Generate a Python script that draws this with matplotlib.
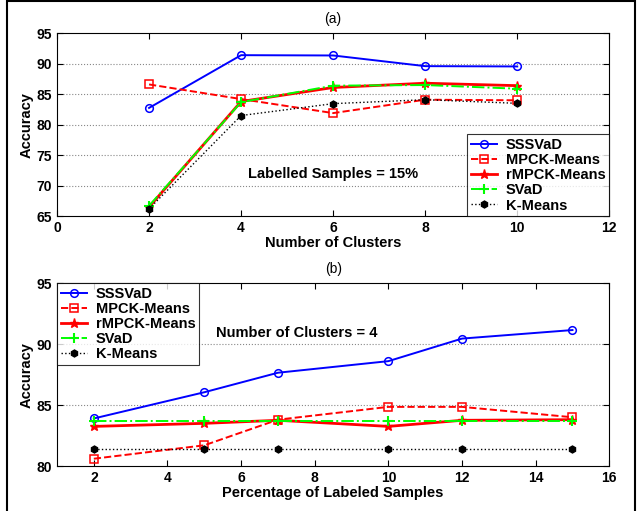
import matplotlib
matplotlib.use("Agg")
import matplotlib.pyplot as plt
from matplotlib.patches import Rectangle

plt.rcParams['font.family'] = ['Liberation Sans', 'DejaVu Sans']

# Panel (a)
clusters = [2, 4, 6, 8, 10]
a_sssvad = [82.75, 91.4, 91.35, 89.6, 89.55]
a_mpck = [86.6, 84.2, 81.9, 84.1, 84.0]
a_rmpck = [66.5, 83.8, 86.1, 86.8, 86.4]
a_svad = [66.7, 83.7, 86.4, 86.5, 85.9]
a_kmeans = [66.2, 81.5, 83.45, 84.1, 83.5]

# Panel (b)
labeled = [2, 5, 7, 10, 12, 15]
b_sssvad = [83.9, 86.05, 87.65, 88.6, 90.45, 91.15]
b_mpck = [80.6, 81.7, 83.8, 84.85, 84.85, 84.0]
b_rmpck = [83.25, 83.5, 83.75, 83.25, 83.75, 83.8]
b_svad = [83.7, 83.7, 83.7, 83.7, 83.7, 83.7]
b_kmeans = [81.4, 81.4, 81.4, 81.4, 81.4, 81.4]

names = ['SSSVaD', 'MPCK-Means', 'rMPCK-Means', 'SVaD', 'K-Means']

styles = [
    dict(color='#0000ff', ls='-', marker='o', mfc='none', ms=5.5, lw=1.4, mew=1.1),
    dict(color='#ff0000', ls='--', marker='s', mfc='none', ms=5.5, lw=1.4, mew=1.1),
    dict(color='#ff0000', ls='-', marker='*', mfc='#ff0000', ms=6.5, lw=2.0, mew=1.0),
    dict(color='#00ff00', ls='-.', marker='+', ms=7, lw=1.4, mew=1.5),
    dict(color='#000000', ls=':', marker='h', mfc='#000000', ms=5, lw=1.0, mew=1.0),
]

fig = plt.figure(figsize=(6.37, 5.11), dpi=100)
fig.patches.append(Rectangle((7 / 637, -0.05), 628 / 637, 1.048, transform=fig.transFigure,
                             fill=False, edgecolor='black', lw=1.5))

def style_ax(ax, yticks):
    ax.tick_params(direction='in', top=True, right=True, labelsize=10, length=4)
    for lab in ax.get_xticklabels() + ax.get_yticklabels():
        lab.set_fontweight('bold')
    ax.set_yticks(yticks)
    for y in yticks[1:-1]:
        ax.axhline(y, color='#888888', ls=':', lw=0.8, zorder=0)
    for sp in ax.spines.values():
        sp.set_linewidth(0.8)

def make_legend(ax, loc):
    lg = ax.legend(loc=loc, prop={'weight': 'bold', 'size': 10.5},
                   frameon=True, fancybox=False, edgecolor='black', borderaxespad=0,
                   handlelength=1.8, handletextpad=0.6, labelspacing=0.08, borderpad=0.25)
    lg.get_frame().set_linewidth(0.8)
    return lg

axa = fig.add_axes([0.0895, 0.577, 0.867, 0.358])
for ys, nm, st in zip([a_sssvad, a_mpck, a_rmpck, a_svad, a_kmeans], names, styles):
    axa.plot(clusters, ys, label=nm, **st)
axa.set_xlim(0, 12)
axa.set_ylim(65, 95)
axa.set_xticks(range(0, 13, 2))
style_ax(axa, [65, 70, 75, 80, 85, 90, 95])
axa.set_xlabel('Number of Clusters', fontsize=10.5, fontweight='bold', labelpad=1)
axa.set_ylabel('Accuracy', fontsize=10.5, fontweight='bold', labelpad=2)
axa.set_title('(a)', fontsize=10, pad=7)
axa.text(6.0, 71.9, 'Labelled Samples = 15%', fontsize=10.5, fontweight='bold', ha='center', va='center')
make_legend(axa, 'lower right')

axb = fig.add_axes([0.0895, 0.088, 0.867, 0.358])
for ys, nm, st in zip([b_sssvad, b_mpck, b_rmpck, b_svad, b_kmeans], names, styles):
    axb.plot(labeled, ys, label=nm, **st)
axb.set_xlim(1, 16)
axb.set_ylim(80, 95)
axb.set_xticks(range(2, 17, 2))
style_ax(axb, [80, 85, 90, 95])
axb.set_xlabel('Percentage of Labeled Samples', fontsize=10.5, fontweight='bold', labelpad=1)
axb.set_ylabel('Accuracy', fontsize=10.5, fontweight='bold', labelpad=2)
axb.set_title('(b)', fontsize=10, pad=7)
axb.text(7.5, 90.9, 'Number of Clusters = 4', fontsize=10.5, fontweight='bold', ha='center', va='center')
make_legend(axb, 'upper left')

fig.savefig('out.png', dpi=100)
